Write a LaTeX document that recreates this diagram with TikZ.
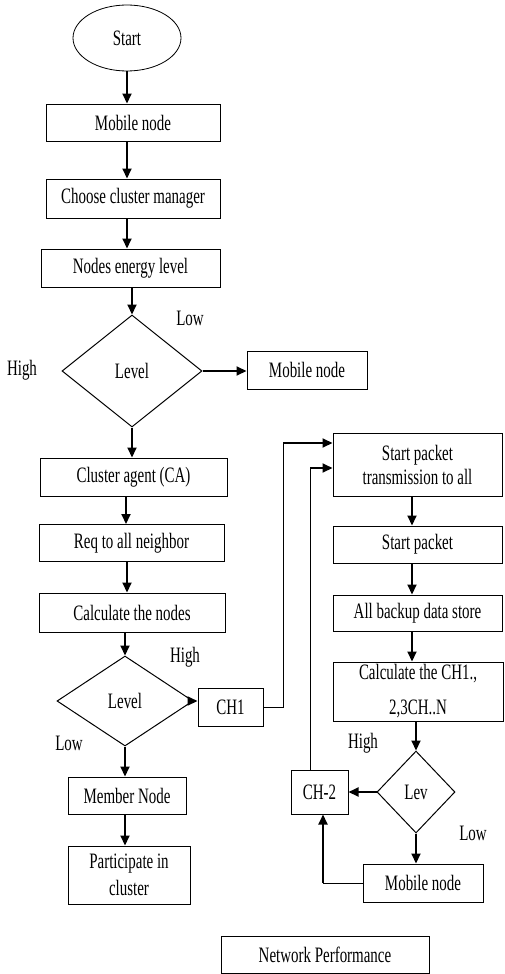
\documentclass[tikz,border=0pt]{standalone}
\usepackage{fontspec}
\setmainfont{Liberation Serif}[FakeStretch=0.68]
\usetikzlibrary{shapes.geometric,arrows.meta}
\begin{document}
\begin{tikzpicture}[x=1pt,y=-1pt,
  font=\fontsize{22}{24}\selectfont,
  box/.style={draw,line width=1pt,inner sep=0pt,align=center,anchor=center},
  dec/.style={draw,diamond,line width=1pt,inner sep=0pt,anchor=center},
  arr/.style={line width=2pt,-{Triangle[length=10pt,width=9pt]}},
  wire/.style={line width=1pt},
  lab/.style={inner sep=0pt,anchor=center}]
\useasboundingbox (0,0) rectangle (504,974);

% left column
\node[draw,ellipse,line width=0.8pt,minimum width=108pt,minimum height=66pt,inner sep=0pt] (start) at (127,38) {Start};
\node[box,minimum width=174pt,minimum height=37pt] (mob1) at (133,122.5) {Mobile node};
\node[box,minimum width=174pt,minimum height=39pt] (choose) at (133,198.5) {Choose cluster manager};
\node[box,minimum width=179pt,minimum height=38pt] (energy) at (130.5,268) {Nodes energy level};
\node[dec,minimum width=140pt,minimum height=112pt] (lev1) at (132,371) {Level};
\node[box,minimum width=120pt,minimum height=38pt] (mob2) at (307,370) {Mobile node};
\node[box,minimum width=187pt,minimum height=38pt] (ca) at (133.5,477) {Cluster agent (CA)};
\node[box,minimum width=185pt,minimum height=37pt] (req) at (131.5,543) {Req to all neighbor};
\node[box,minimum width=186pt,minimum height=39pt] (calc) at (132,612.5) {Calculate the nodes};
\node[dec,minimum width=136pt,minimum height=90pt] (lev2) at (125,701) {Level};
\node[box,minimum width=65pt,minimum height=38pt] (ch1) at (230.5,707) {CH1};
\node[box,minimum width=118pt,minimum height=37pt] (member) at (127,795.5) {Member Node};
\node[box,minimum width=122pt,minimum height=58pt] (part) at (129,875) {Participate in\\[3pt]cluster};

% right column
\node[box,minimum width=169pt,minimum height=63pt] (spt) at (417.5,464.5) {Start packet\\transmission to all};
\node[box,minimum width=169pt,minimum height=37pt] (sp) at (417.5,544.5) {Start packet};
\node[box,minimum width=169pt,minimum height=36pt] (backup) at (417.5,613) {All backup data store};
\node[box,minimum width=170pt,minimum height=59pt] (calcch) at (418,691.5) {Calculate the CH1.,\\[11pt]2,3CH..N};
\node[dec,minimum width=78pt,minimum height=82pt] (lev3) at (416,792) {Lev};
\node[box,minimum width=57pt,minimum height=44pt] (ch2) at (319.5,792) {CH-2};
\node[box,minimum width=120pt,minimum height=38pt] (mob3) at (423,883) {Mobile node};
\node[box,minimum width=208pt,minimum height=37pt] (np) at (325,954.5) {Network Performance};

% labels
\node[lab] (l1) at (190,318) {Low};
\node[lab] (h1) at (22,370) {High};
\node[lab] (h2) at (185,657) {High};
\node[lab] (l2) at (69,743) {Low};
\node[lab] (h3) at (363,743) {High};
\node[lab] (l3) at (473,833) {Low};

% connectors
\draw[arr] (start.south) -- (start.south |- mob1.north);
\draw[arr] (mob1.south -| start.south) -- (start.south |- choose.north);
\draw[arr] (choose.south -| start.south) -- (start.south |- energy.north);
\draw[arr] (energy.south -| lev1.north) -- (lev1.north);
\draw[arr] (lev1.east) -- (lev1.east -| mob2.west);
\draw[arr] (lev1.south) -- (lev1.south |- ca.north);
\draw[arr] (ca.south -| 126,0) -- (req.north -| 126,0);
\draw[arr] (req.south -| 127,0) -- (calc.north -| 127,0);
\draw[arr] (calc.south -| lev2.north) -- (lev2.north);
\draw[arr] (lev2.east) -- (lev2.east -| ch1.west);
\draw[arr] (lev2.south) -- (lev2.south |- member.north);
\draw[arr] (member.south -| lev2.south) -- (lev2.south |- part.north);

\coordinate (r1) at (283,443);
\draw[wire] (ch1.east) -| (r1);
\draw[arr] (r1) -- (r1 -| spt.west);
\coordinate (r2) at (310,468);
\draw[wire] (ch2.north -| r2) -- (r2);
\draw[arr] (r2) -- (r2 -| spt.west);

\draw[arr] (spt.south -| 412,0) -- (sp.north -| 412,0);
\draw[arr] (sp.south -| 412,0) -- (backup.north -| 412,0);
\draw[arr] (backup.south -| 412,0) -- (calcch.north -| 412,0);
\draw[arr] (calcch.south -| lev3.north) -- (lev3.north);
\draw[arr] (lev3.west) -- (lev3.west -| ch2.east);
\draw[arr] (lev3.south) -- (lev3.south |- mob3.north);
\coordinate (r3) at (323,883);
\draw[wire] (mob3.west) -- (r3);
\draw[arr] (r3) -- (r3 |- ch2.south);
\end{tikzpicture}
\end{document}
